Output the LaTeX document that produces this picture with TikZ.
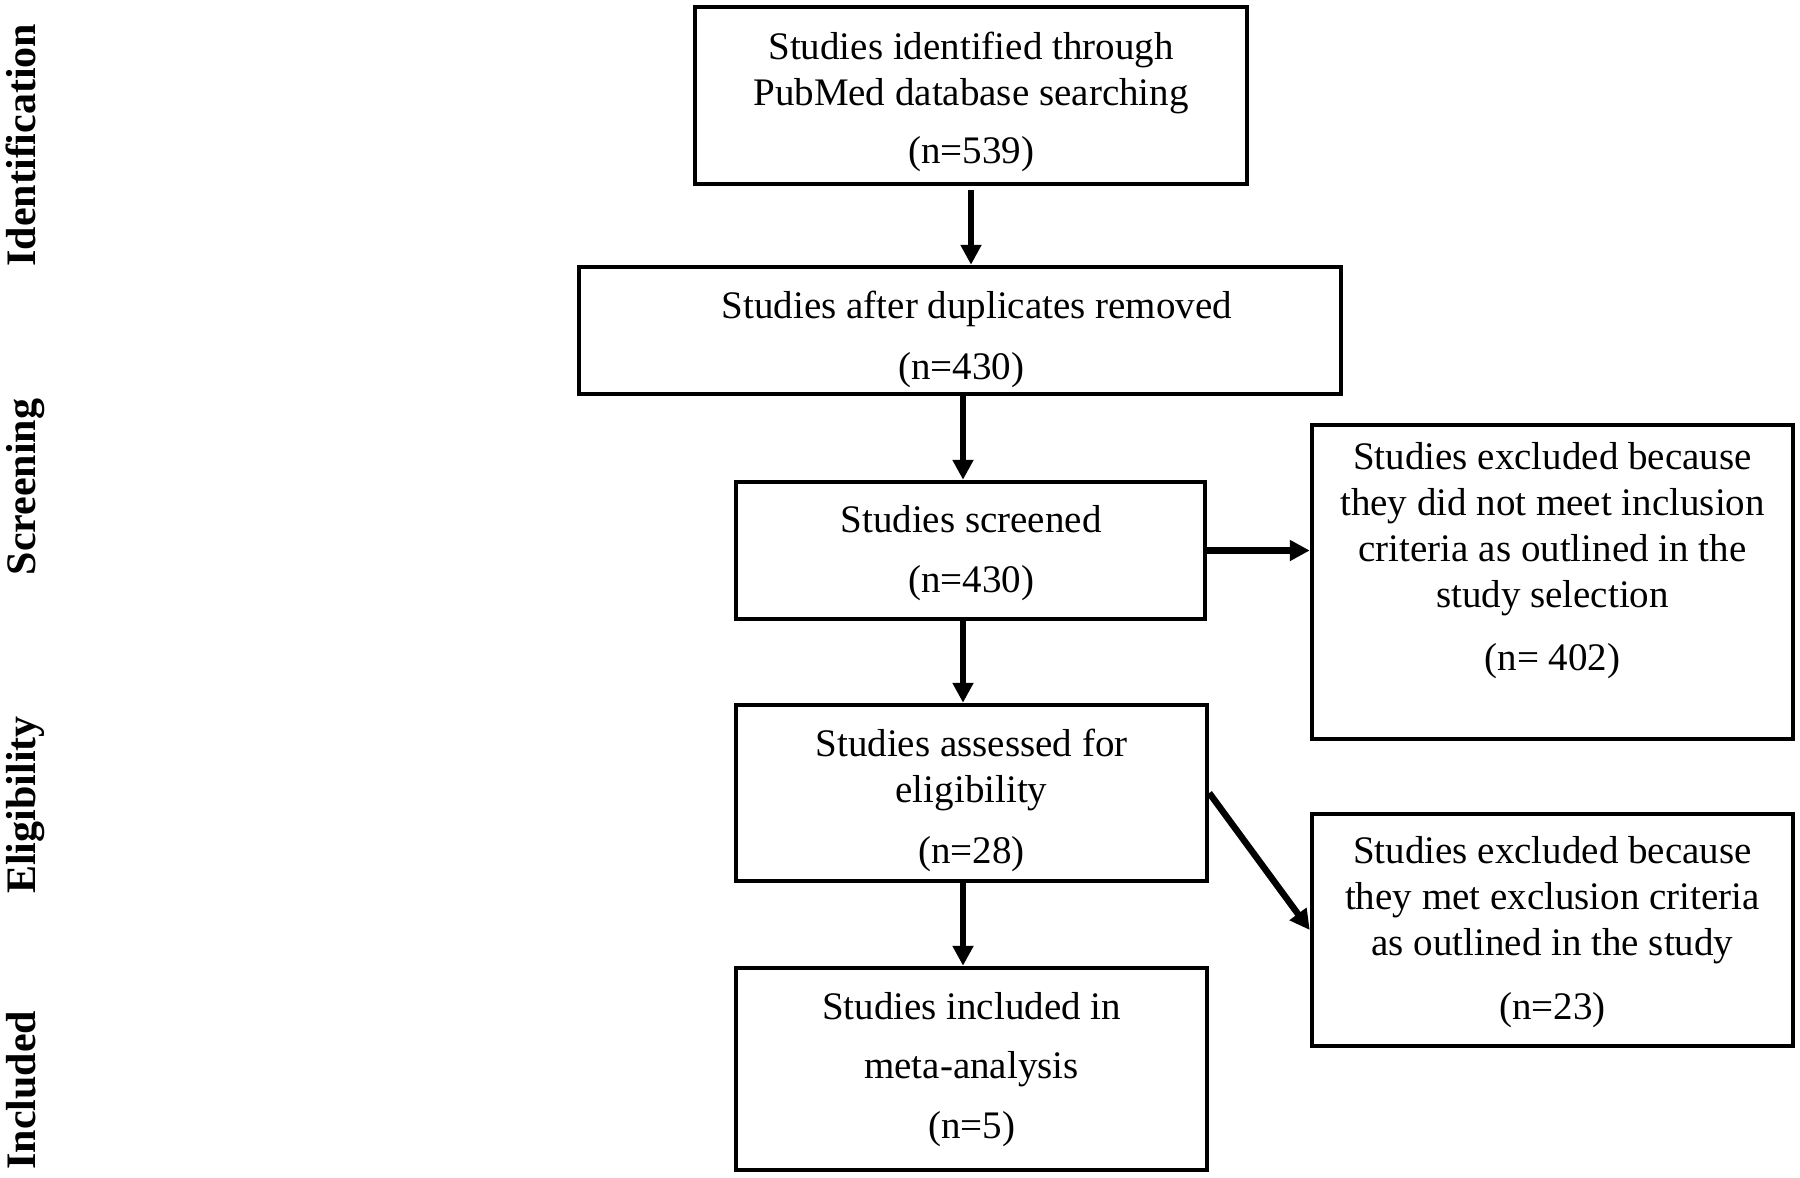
\documentclass[tikz,border=0pt]{standalone}
\usepackage{fontspec}
\setmainfont{Liberation Serif}
\usetikzlibrary{arrows.meta,calc}
\begin{document}
\begin{tikzpicture}[x=1pt,y=-1pt,
  box/.style={draw, line width=4.5pt, inner sep=0pt},
  txt/.style={align=center, font=\fontsize{39}{46}\selectfont, inner sep=0pt},
  side/.style={rotate=90, anchor=base, font=\fontsize{42}{50}\selectfont\bfseries, inner sep=0pt},
  arr/.style={line width=6.5pt, -{Triangle[width=20pt,length=20pt]}}]
\useasboundingbox (0,0) rectangle (1800,1178);
% side labels
\node[side] (s1) at (35,145) {Identification};
\node[side] (s2) at (35,487) {Screening};
\node[side] (s3) at (35,805) {Eligibility};
\node[side] (s4) at (35,1090) {Included};
% boxes
\node[box, minimum width=552pt, minimum height=177pt] (b1) at (971,95.5) {};
\node[box, minimum width=762pt, minimum height=127pt] (b2) at (960,330.5) {};
\node[box, minimum width=469pt, minimum height=137pt] (b3) at (970.5,550.5) {};
\node[box, minimum width=471pt, minimum height=176pt] (b4) at (971.5,793) {};
\node[box, minimum width=471pt, minimum height=202pt] (b5) at (971.5,1069) {};
\node[box, minimum width=481pt, minimum height=314pt] (b6) at (1552.5,582) {};
\node[box, minimum width=481pt, minimum height=232pt] (b7) at (1552.5,930) {};
% texts
\node[txt] (t1) at (971,101.5) {Studies identified through\\PubMed database searching\\[12pt](n=539)};
\node[txt] (t2) at (977,339) {Studies after duplicates removed\\[15pt](n=430)\hspace*{32pt}};
\node[txt] (t3) at (971,553.5) {Studies screened\\[14pt](n=430)};
\node[txt] (t4) at (971.5,800) {Studies assessed for\\eligibility\\[15pt](n=28)};
\node[txt] (t5) at (971.5,1070) {Studies included in\\[13pt]meta-analysis\\[14pt](n=5)};
\node[txt] (t6) at (1552.5,560.5) {Studies excluded because\\they did not meet inclusion\\criteria as outlined in the\\study selection\\[17pt](n= 402)};
\node[txt] (t7) at (1552.5,932) {Studies excluded because\\they met exclusion criteria\\as outlined in the study\\[18pt](n=23)};
% arrows
\draw[arr, shorten <=4pt] (b1.south) -- (b1.south |- b2.north);
\draw[arr] ([xshift=3pt]b2.south) -- ([xshift=-7.5pt]b3.north);
\draw[arr] ([xshift=-7.5pt]b3.south) -- ([xshift=-8.5pt]b4.north);
\draw[arr] ([xshift=-8.5pt]b4.south) -- ([xshift=-8.5pt]b5.north);
\draw[arr] (b3.east) -- (b6.west |- b3.east);
\draw[arr] (b4.east) -- (b7.west);
\end{tikzpicture}
\end{document}
